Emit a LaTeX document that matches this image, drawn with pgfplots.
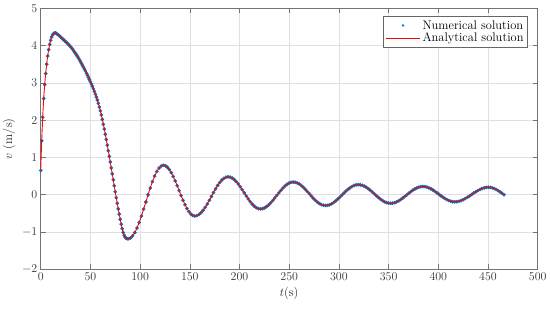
\documentclass[border=0pt]{standalone}
\usepackage{pgfplots}
\usepackage{pgfplotstable}
\pgfplotsset{compat=1.18}
\definecolor{mblue}{rgb}{0,0.447,0.741}
\definecolor{gridc}{gray}{0.88}
\definecolor{axc}{gray}{0.45}
\pgfplotstableread{
t v
0 0.65
1 1.45
2 2.08
3 2.58
4 2.95
5 3.25
6 3.50
7 3.72
8 3.89
9 4.03
10 4.14
11 4.23
12 4.29
13 4.32
14 4.34
15 4.34
16 4.32
17 4.30
18 4.28
19 4.26
20 4.23
21 4.21
22 4.18
23 4.16
24 4.13
25 4.11
26 4.08
27 4.06
28 4.03
29 4.00
30 3.97
31 3.94
32 3.91
33 3.87
34 3.83
35 3.79
36 3.75
37 3.71
38 3.66
39 3.62
40 3.57
41 3.52
42 3.47
43 3.42
44 3.37
45 3.32
46 3.26
47 3.21
48 3.15
49 3.09
50 3.03
51 2.97
52 2.91
53 2.84
54 2.77
55 2.70
56 2.62
57 2.54
58 2.45
59 2.35
60 2.25
61 2.14
62 2.02
63 1.89
64 1.76
65 1.62
66 1.48
67 1.33
68 1.18
69 1.03
70 0.88
71 0.72
72 0.56
73 0.40
74 0.24
75 0.08
76 -0.08
77 -0.23
78 -0.38
79 -0.52
80 -0.66
81 -0.79
82 -0.91
83 -1.01
84 -1.09
85 -1.14
86 -1.17
87 -1.18
88 -1.18
90.2 -1.161
92.4 -1.105
94.7 -1.014
96.9 -0.892
99.1 -0.742
101.3 -0.572
103.5 -0.387
105.8 -0.195
108.0 -0.003
110.2 0.182
112.4 0.352
114.6 0.501
116.8 0.624
119.1 0.715
121.3 0.771
123.5 0.790
125.5 0.777
127.4 0.738
129.4 0.675
131.4 0.591
133.3 0.488
135.3 0.370
137.3 0.243
139.3 0.110
141.2 -0.023
143.2 -0.150
145.2 -0.268
147.1 -0.371
149.1 -0.455
151.1 -0.518
153.0 -0.557
155.0 -0.570
157.1 -0.560
159.2 -0.530
161.3 -0.482
163.4 -0.416
165.5 -0.337
167.6 -0.246
169.7 -0.147
171.8 -0.045
173.8 0.057
175.9 0.156
178.0 0.247
180.1 0.326
182.2 0.392
184.3 0.440
186.4 0.470
188.5 0.480
190.5 0.472
192.6 0.447
194.6 0.408
196.6 0.354
198.7 0.289
200.7 0.215
202.7 0.134
204.8 0.050
206.8 -0.034
208.8 -0.115
210.8 -0.189
212.9 -0.254
214.9 -0.308
216.9 -0.347
219.0 -0.372
221.0 -0.380
223.1 -0.373
225.1 -0.353
227.2 -0.319
229.3 -0.275
231.3 -0.220
233.4 -0.158
235.4 -0.090
237.5 -0.020
239.6 0.050
241.6 0.118
243.7 0.180
245.8 0.235
247.8 0.279
249.9 0.313
251.9 0.333
254.0 0.340
256.0 0.334
258.1 0.316
260.1 0.287
262.1 0.248
264.2 0.200
266.2 0.146
268.2 0.086
270.3 0.025
272.3 -0.036
274.3 -0.096
276.3 -0.150
278.4 -0.198
280.4 -0.237
282.4 -0.266
284.5 -0.284
286.5 -0.290
288.6 -0.285
290.6 -0.269
292.7 -0.243
294.8 -0.208
296.8 -0.166
298.9 -0.117
300.9 -0.065
303.0 -0.010
305.1 0.045
307.1 0.097
309.2 0.146
311.3 0.188
313.3 0.223
315.4 0.249
317.4 0.265
319.5 0.270
321.5 0.265
323.6 0.251
325.6 0.228
327.6 0.197
329.7 0.159
331.7 0.116
333.7 0.069
335.8 0.020
337.8 -0.029
339.8 -0.076
341.8 -0.119
343.9 -0.157
345.9 -0.188
347.9 -0.211
350.0 -0.225
352.0 -0.230
354.0 -0.226
356.1 -0.213
358.1 -0.192
360.1 -0.164
362.2 -0.130
364.2 -0.091
366.2 -0.049
368.3 -0.005
370.3 0.039
372.3 0.081
374.3 0.120
376.4 0.154
378.4 0.182
380.4 0.203
382.5 0.216
384.5 0.220
386.5 0.216
388.5 0.204
390.5 0.185
392.5 0.160
394.5 0.129
396.5 0.093
398.5 0.055
400.5 0.015
402.5 -0.025
404.5 -0.063
406.5 -0.099
408.5 -0.130
410.5 -0.155
412.5 -0.174
414.5 -0.186
416.5 -0.190
418.6 -0.186
420.8 -0.175
422.9 -0.157
425.0 -0.133
427.1 -0.103
429.3 -0.070
431.4 -0.033
433.5 0.005
435.6 0.043
437.8 0.080
439.9 0.113
442.0 0.143
444.1 0.167
446.3 0.185
448.4 0.196
450.5 0.200
452.4 0.196
454.4 0.185
456.3 0.166
458.3 0.141
460.2 0.111
462.1 0.077
464.1 0.039
466.0 0.000
}\data
\begin{document}
\begin{tikzpicture}
\begin{axis}[name=ax, scale only axis, width=497bp, height=261bp,
 set layers,
 xmin=0, xmax=500, ymin=-2, ymax=5,
 xtick={0,50,...,500}, ytick={-2,-1,...,5},
 tick align=inside, major tick length=5bp,
 grid=major, grid style={gridc, line width=0.5pt},
 axis line style={axc, line width=0.6pt},
 tick style={axc, line width=0.6pt},
 ticklabel style={font=\fontsize{12}{14}\selectfont, text=black!80},
 xlabel={$t$(s)}, ylabel={$v$ (m/s)},
 label style={font=\fontsize{12.5}{14}\selectfont, text=black!85},
 legend style={at={(0.98,0.97)}, anchor=north east, font=\fontsize{12.5}{14}\selectfont,
   draw=black!60, line width=0.5pt, inner sep=2pt, row sep=-1.5pt},
 legend cell align=left]
\addplot[only marks, mark=*, mark size=1.65pt, color=mblue, mark options={draw=none, fill=mblue},
  legend image code/.code={\fill[fill=mblue, draw=none] (0.6cm,0cm) circle (1.35pt);}] table {\data};
\addlegendentry{Numerical solution}
\addplot[draw=red, line width=0.9pt, on layer=axis foreground,
  legend image code/.code={\draw[draw=red, line width=0.9pt] (0cm,0cm) -- (1.2cm,0cm);}] table {\data};
\addlegendentry{Analytical solution}
\end{axis}
\pgfresetboundingbox
\path[use as bounding box] (ax.south west) ++(-40.7bp,-40.7bp) rectangle ++(550bp,310bp);
\end{tikzpicture}
\end{document}
